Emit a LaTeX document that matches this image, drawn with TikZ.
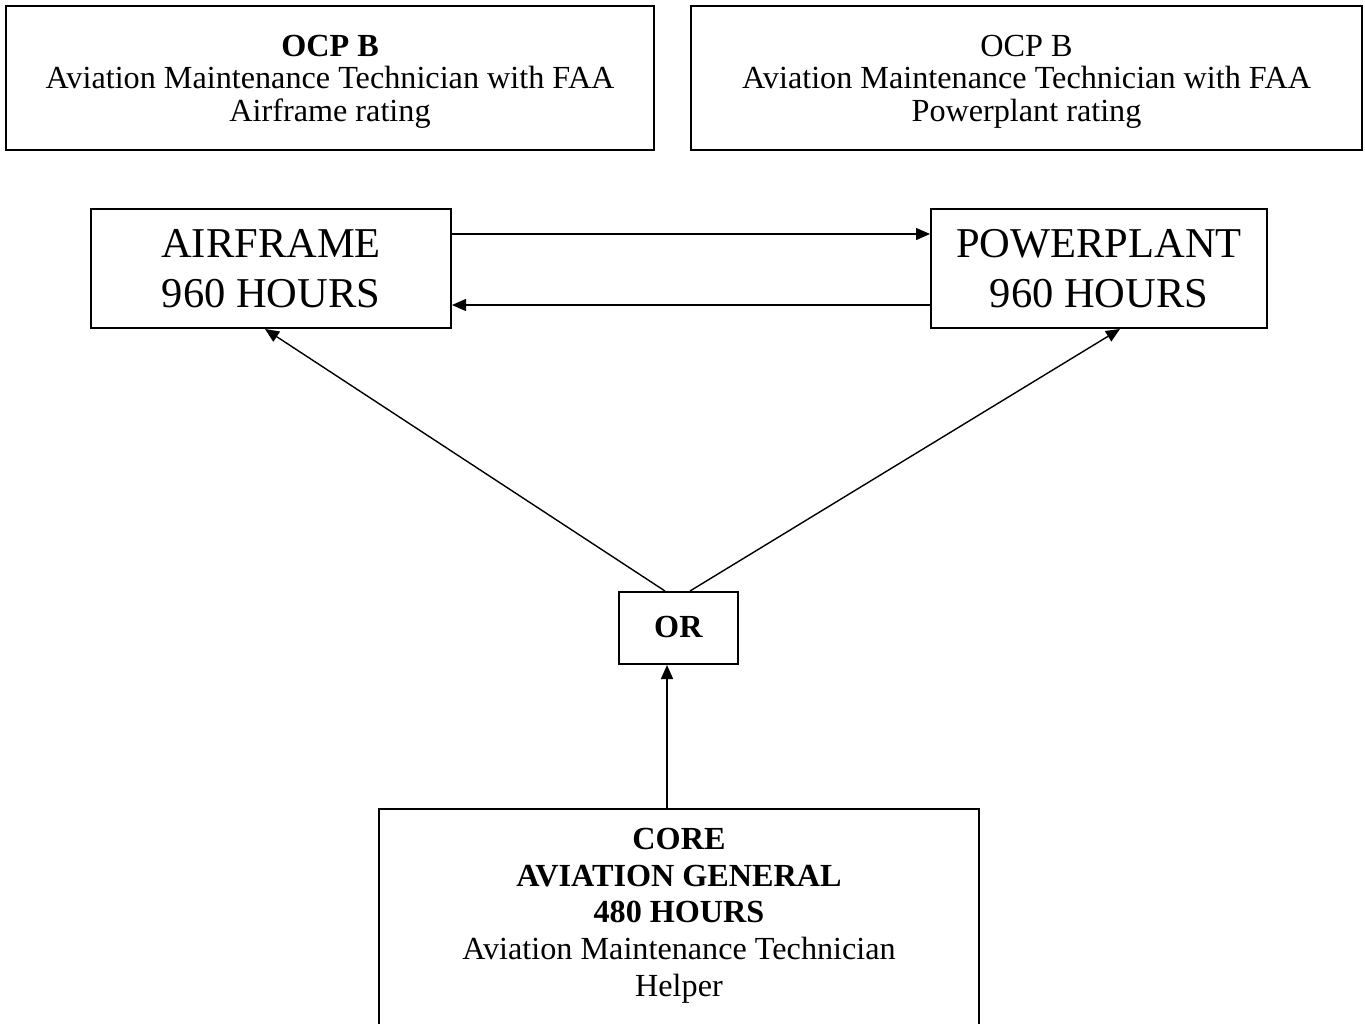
\documentclass[tikz,border=0pt]{standalone}
\usepackage{fontspec}
\setmainfont{Liberation Serif}
\usetikzlibrary{arrows.meta}
\begin{document}
\begin{tikzpicture}[x=0.5pt, y=-0.5pt,
    box/.style = {draw = black, line width = 1pt, align = center, inner sep = 0pt},
    small/.style = {font = \fontsize{16.1pt}{16.25pt}\selectfont},
    big/.style = {font = \fontsize{21.25pt}{25pt}\selectfont},
    arr/.style = {line width = 0.7pt, -{Triangle[length = 7pt, width = 6pt]}}]
                \useasboundingbox (0,0) rectangle (1365,1023);
                \clip (0,0) rectangle (1365,1023);
                % certificates
                \node [box, small, minimum width = 324pt, minimum height = 72pt, text depth = 0pt] (ocpA) at (330,78)
                    {\textbf{OCP B}\\Aviation Maintenance Technician with FAA\\Airframe rating};
                \node [box, small, minimum width = 335.5pt, minimum height = 72pt, text depth = 0pt] (ocpP) at (1026.5,78)
                    {OCP B\\Aviation Maintenance Technician with FAA\\Powerplant rating};
                % courses
                \node [box, big, minimum width = 180pt, minimum height = 59.5pt] (airframe) at (271,268.5)
                    {AIRFRAME\\960 HOURS};
                \node [box, big, minimum width = 168pt, minimum height = 59.5pt] (powerplant) at (1099,268.5)
                    {POWERPLANT\\960 HOURS};
                \node [box, small, minimum width = 59.5pt, minimum height = 36pt, text depth = 1.5pt] (or) at (678.5,628)
                    {\textbf{OR}};
                \node [box, minimum width = 300pt, inner ysep = 9.5pt, text depth = 60pt, anchor = north,
                       font = \fontsize{16.1pt}{18.4pt}\selectfont] (core) at (679,808)
                    {\textbf{CORE}\\\textbf{AVIATION GENERAL}\\\textbf{480 HOURS}\\Aviation Maintenance Technician\\Helper};
                % arrows
                \draw [arr] ([yshift = 17.25pt]airframe.east) -- ([yshift = 17.25pt]powerplant.west);
                \draw [arr] ([yshift = -18.25pt]powerplant.west) -- ([yshift = -18.25pt]airframe.east);
                \draw [arr] ([xshift = -6.75pt]or.north) -- ([xshift = -3pt]airframe.south);
                \draw [arr] ([xshift = 5.75pt]or.north) -- ([xshift = 10.5pt]powerplant.south);
                \draw [arr] ([xshift = -6pt]core.north) -- ([xshift = -6pt]core.north |- or.south);
            \end{tikzpicture}
\end{document}
